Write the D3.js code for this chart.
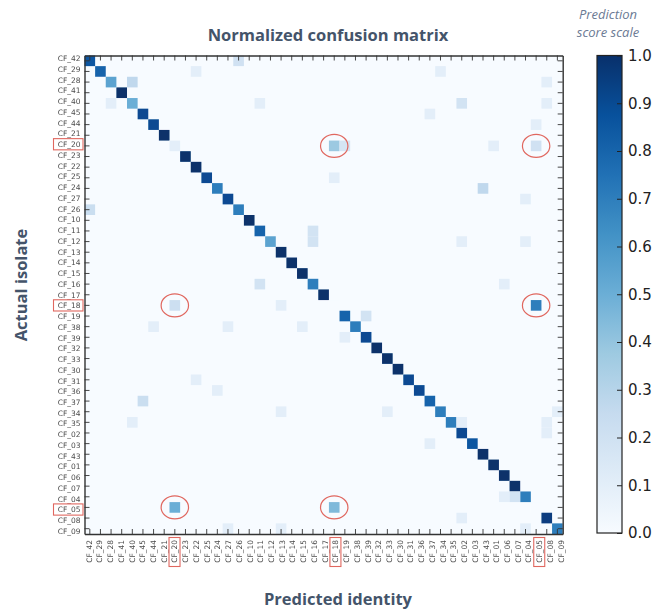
<!DOCTYPE html>
<html>
<head>
<meta charset="utf-8">
<script src="https://cdn.jsdelivr.net/npm/d3@7"></script>
<style>
  body { margin: 0; background: #fff; }
  svg { display: block; }
  .heading { font-family: "Open Sans", sans-serif; font-weight: 700; fill: #44546a; }
</style>
</head>
<body>
<div id="chart"></div>
<script>
var labels = ["CF_42","CF_29","CF_28","CF_41","CF_40","CF_45","CF_44","CF_21","CF_20","CF_23","CF_22","CF_25","CF_24","CF_27","CF_26","CF_10","CF_11","CF_12","CF_13","CF_14","CF_15","CF_16","CF_17","CF_18","CF_19","CF_38","CF_39","CF_32","CF_33","CF_30","CF_31","CF_36","CF_37","CF_34","CF_35","CF_02","CF_03","CF_43","CF_01","CF_06","CF_07","CF_04","CF_05","CF_08","CF_09"];
// share of each isolate predicted as itself, same order as labels
var diagonal = [.85,.8,.55,1,.5,.9,.9,1,.1,1,1,.9,.7,.9,.7,1,.8,.55,1,1,1,.7,1,0,.8,.7,.9,1,1,1,.9,.9,.8,.7,.7,.9,.85,1,1,1,1,.7,0,.95,.7];
// off-diagonal cells: actual, predicted, score
var offActual = ["CF_42","CF_29","CF_29","CF_28","CF_28","CF_40","CF_40","CF_40","CF_40","CF_45","CF_44","CF_20","CF_20","CF_20","CF_20","CF_25","CF_24","CF_27","CF_26","CF_11","CF_12","CF_12","CF_12","CF_16","CF_16","CF_18","CF_18","CF_18","CF_19","CF_38","CF_38","CF_38","CF_39","CF_31","CF_36","CF_37","CF_34","CF_34","CF_34","CF_35","CF_35","CF_35","CF_02","CF_03","CF_04","CF_04","CF_05","CF_05","CF_08","CF_09","CF_09","CF_09"];
var offPredicted = ["CF_26","CF_22","CF_34","CF_40","CF_08","CF_28","CF_11","CF_02","CF_08","CF_37","CF_05","CF_18","CF_19","CF_01","CF_05","CF_18","CF_43","CF_04","CF_42","CF_16","CF_16","CF_02","CF_04","CF_11","CF_06","CF_20","CF_13","CF_05","CF_39","CF_44","CF_27","CF_15","CF_19","CF_22","CF_24","CF_45","CF_13","CF_33","CF_09","CF_40","CF_02","CF_08","CF_08","CF_37","CF_06","CF_07","CF_20","CF_18","CF_02","CF_27","CF_13","CF_04"];
var offScores = [.2,.1,.1,.27,.1,.1,.1,.19,.1,.1,.1,.38,.17,.1,.2,.1,.27,.1,.23,.19,.19,.1,.1,.19,.1,.22,.1,.7,.19,.1,.1,.1,.1,.1,.1,.23,.1,.1,.1,.1,.1,.1,.1,.1,.1,.19,.5,.45,.1,.1,.1,.1];
var highlighted = ["CF_20","CF_18","CF_05"];
var scaleTicks = [0,.1,.2,.3,.4,.5,.6,.7,.8,.9,1];

var width = 654, height = 610;
var left = 84.5, right = 562.7, top_ = 55.5, bottom = 534;

var svg = d3.select("#chart").append("svg")
    .attr("width", width)
    .attr("height", height);

var x = d3.scaleBand().domain(labels).range([left, right]);
var y = d3.scaleBand().domain(labels).range([top_, bottom]);
// the tick labels sit slightly wider apart than the ticks in the original
var xLabel = d3.scalePoint().domain(labels).range([88.7, 560.7]);
var yLabel = d3.scalePoint().domain(labels).range([58.3, 531]);

var blues = d3.schemeBlues[9];
var color = d3.scaleLinear()
    .domain(blues.map(function(d, i) { return i / 8; }))
    .range(blues);

var defs = svg.append("defs");
defs.append("filter").attr("id", "soft")
    .append("feGaussianBlur").attr("stdDeviation", 0.45);
defs.append("filter").attr("id", "softText")
    .append("feGaussianBlur").attr("stdDeviation", 0.25);
var grad = defs.append("linearGradient").attr("id", "bar")
    .attr("x1", 0).attr("y1", 1).attr("x2", 0).attr("y2", 0);
grad.selectAll("stop")
    .data(blues)
    .enter().append("stop")
    .attr("offset", function(d, i) { return i / 8; })
    .attr("stop-color", function(d) { return d; });

var cells = labels.map(function(d, i) {
    return { actual: d, predicted: d, value: diagonal[i] };
}).concat(offActual.map(function(d, i) {
    return { actual: d, predicted: offPredicted[i], value: offScores[i] };
}));

svg.append("rect")
    .attr("x", left).attr("y", top_)
    .attr("width", right - left).attr("height", bottom - top_)
    .attr("fill", color(0));

svg.append("g").attr("filter", "url(#soft)")
    .selectAll("rect")
    .data(cells)
    .enter().append("rect")
    .attr("x", function(d) { return x(d.predicted); })
    .attr("y", function(d) { return y(d.actual); })
    .attr("width", x.bandwidth())
    .attr("height", y.bandwidth())
    .attr("fill", function(d) { return color(d.value); });

// inward ticks on all four sides
function tickAxis(axis, tx, ty) {
    var g = svg.append("g")
        .attr("transform", "translate(" + tx + "," + ty + ")")
        .call(axis.tickSize(-5).tickSizeOuter(0).tickFormat(""));
    g.selectAll("line").attr("stroke", "#333").attr("stroke-width", 0.9);
    g.select(".domain").attr("stroke", "#333").attr("stroke-width", 1.4);
}
tickAxis(d3.axisLeft(y), left, 0);
tickAxis(d3.axisRight(y), right, 0);
tickAxis(d3.axisTop(x), 0, top_);
tickAxis(d3.axisBottom(x), 0, bottom);

var yText = svg.append("g")
    .attr("transform", "translate(84.5,0)")
    .attr("filter", "url(#softText)")
    .call(d3.axisLeft(yLabel).tickSize(0).tickPadding(4));
yText.select(".domain").remove();
yText.selectAll("text")
    .attr("font-family", "DejaVu Sans").attr("font-size", 7.5).attr("fill", "#4d4d4d");

var xText = svg.append("g")
    .attr("transform", "translate(0,534)")
    .attr("filter", "url(#softText)")
    .call(d3.axisBottom(xLabel).tickSize(0).tickPadding(0));
xText.select(".domain").remove();
xText.selectAll("text")
    .attr("font-family", "DejaVu Sans").attr("font-size", 7.5).attr("fill", "#4d4d4d")
    .attr("text-anchor", "end")
    .attr("transform", "rotate(-90)")
    .attr("x", -6).attr("y", 0).attr("dy", ".32em");

// red markers round the three problem isolates
var red = "#e0675f";
svg.append("g").selectAll("rect")
    .data(highlighted)
    .enter().append("rect")
    .attr("x", 53.5)
    .attr("y", function(d) { return yLabel(d) - 5.6; })
    .attr("width", 29.5).attr("height", 11.2)
    .attr("fill", "none").attr("stroke", red).attr("stroke-width", 1.1);
svg.append("g").selectAll("rect")
    .data(highlighted)
    .enter().append("rect")
    .attr("x", function(d) { return xLabel(d) - 5.5; })
    .attr("y", 537.5)
    .attr("width", 11).attr("height", 29)
    .attr("fill", "none").attr("stroke", red).attr("stroke-width", 1.1);

var pairs = d3.cross(highlighted, highlighted).filter(function(d) { return d[0] !== d[1]; });
svg.append("g").selectAll("ellipse")
    .data(pairs)
    .enter().append("ellipse")
    .attr("cx", function(d) { return x(d[1]) + x.bandwidth() / 2; })
    .attr("cy", function(d) { return y(d[0]) + y.bandwidth() / 2; })
    .attr("rx", 13.7).attr("ry", 11.5)
    .attr("fill", "none").attr("stroke", red).attr("stroke-width", 1.2);

// colour bar
var barX = 597, barW = 25;
var barScale = d3.scaleLinear().domain([0, 1]).range([533, 55.5]);
svg.append("rect")
    .attr("x", barX).attr("y", barScale(1))
    .attr("width", barW).attr("height", barScale(0) - barScale(1))
    .attr("fill", "url(#bar)")
    .attr("stroke", "#222").attr("stroke-width", 1.2);
var barAxis = svg.append("g")
    .attr("transform", "translate(" + (barX + barW) + ",0)")
    .call(d3.axisRight(barScale).tickValues(scaleTicks).tickFormat(d3.format(".1f"))
        .tickSize(-5).tickSizeOuter(0).tickPadding(6));
barAxis.select(".domain").remove();
barAxis.selectAll("line").attr("stroke", "#222");
barAxis.selectAll("text")
    .attr("font-family", "DejaVu Sans").attr("font-size", 15).attr("fill", "#222");

svg.append("text").attr("class", "heading")
    .attr("x", 328).attr("y", 41).attr("text-anchor", "middle")
    .attr("font-size", 16.5).text("Normalized confusion matrix");
svg.append("text").attr("class", "heading")
    .attr("x", 338).attr("y", 605).attr("text-anchor", "middle")
    .attr("font-size", 16.5).text("Predicted identity");
svg.append("text").attr("class", "heading")
    .attr("transform", "translate(27,285) rotate(-90)").attr("text-anchor", "middle")
    .attr("font-size", 16.5).text("Actual isolate");

var note = svg.append("text")
    .attr("font-family", "Open Sans").attr("font-style", "italic")
    .attr("font-size", 13).attr("fill", "#6b7a94").attr("text-anchor", "middle");
note.append("tspan").attr("x", 608).attr("y", 19).text("Prediction");
note.append("tspan").attr("x", 608).attr("y", 37).text("score scale");
</script>
</body>
</html>
